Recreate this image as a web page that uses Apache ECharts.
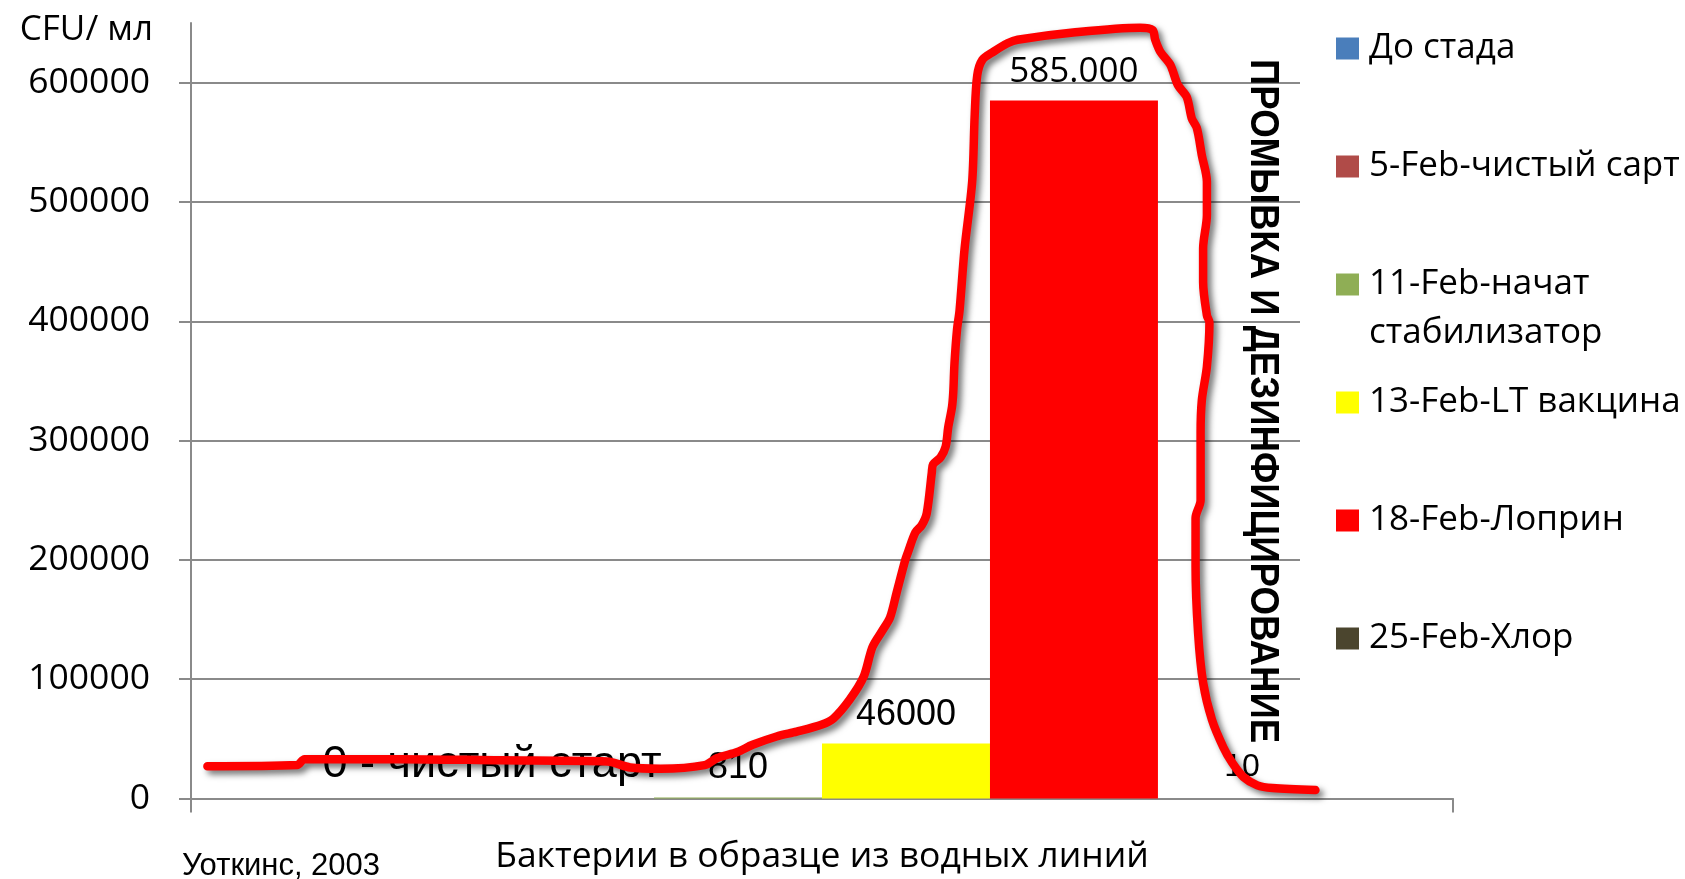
<!DOCTYPE html>
<html>
<head>
<meta charset="utf-8">
<title>CFU/ мл</title>
<script src="https://cdn.jsdelivr.net/npm/echarts@6/dist/echarts.min.js"></script>
<style>
  html, body { margin: 0; padding: 0; background: #fff; }
  #chart { width: 1685px; height: 879px; }
</style>
</head>
<body>
<div id="chart"></div>
<script>
// Category and the bar series (one bar per treatment date)
const categories = ['Бактерии в образце из водных линий'];
const seriesNames = ['До стада', '5-Feb-чистый сарт', '11-Feb-начат стабилизатор', '13-Feb-LT вакцина', '18-Feb-Лоприн', '25-Feb-Хлор'];
const seriesValues = [null, 0, 810, 46000, 585000, 10];

// Y axis tick labels (CFU per ml)
const yTicks = [0, 100000, 200000, 300000, 400000, 500000, 600000];
const yAxisTop = 650000;

// Hand-drawn trend outline: position along the category band (0..100 %) and CFU level
const trendX = [1.3, 8.4, 9.0, 16.6, 24.5, 33.0, 34.8, 37.2, 40.7, 41.7, 43.3, 44.5, 46.4, 48.0, 50.0, 50.9, 52.2, 53.3, 54.0, 54.8, 55.4, 55.9, 56.6, 56.8, 57.4, 57.9, 58.3, 58.7, 58.8, 59.4, 59.8, 60.0, 60.3, 60.4, 60.5, 60.7, 60.9, 61.3, 61.9, 62.1, 62.3, 62.7, 63.6, 64.7, 65.5, 69.9, 75.2, 76.2, 76.4, 76.8, 77.6, 78.2, 78.9, 79.3, 79.7, 80.1, 80.5, 80.5, 80.2, 80.2, 80.5, 80.7, 80.5, 80.1, 80.0, 80.0, 79.6, 79.6, 79.8, 80.2, 80.9, 81.8, 82.5, 83.4, 84.5, 85.7, 89.1];
const trendY = [27000, 28000, 33000, 33000, 32000, 31000, 26000, 25000, 28000, 34000, 39000, 45000, 52000, 56000, 62000, 67000, 83000, 102000, 127000, 141000, 152000, 172000, 200000, 206000, 223000, 229000, 239000, 273000, 280000, 286000, 295000, 311000, 328000, 340000, 365000, 393000, 409000, 461000, 517000, 573000, 606000, 619000, 626000, 633000, 636000, 642000, 646000, 644000, 636000, 626000, 615000, 598000, 588000, 570000, 562000, 539000, 517000, 489000, 461000, 433000, 405000, 399000, 362000, 334000, 306000, 250000, 235000, 194000, 139000, 97000, 66000, 43000, 30000, 18000, 11000, 8800, 7100];

// ---- styling ----
const seriesColors = ['#4A7EBB', '#B04B48', '#8FAE55', '#FFFF00', '#FF0000', '#4B452E'];
const axisGray = '#8A8A8A';
const UI_FONT = '"Open Sans", "Noto Sans", sans-serif';
const LABEL_FONT = '"Liberation Sans", Arial, sans-serif';

function dotThousands(v) {
  return String(v).replace(/\B(?=(\d{3})+(?!\d))/g, '.');
}

// per-series data label look
const labelLook = [
  { show: false },
  { show: true, fontFamily: LABEL_FONT, fontSize: 45, distance: 11, offset: [-78, 0], formatter: p => p.value + ' - чистый старт' },
  { show: true, fontFamily: LABEL_FONT, fontSize: 36, distance: 11 },
  { show: true, fontFamily: LABEL_FONT, fontSize: 36, distance: 11 },
  { show: true, fontFamily: UI_FONT, fontSize: 35, distance: 11, formatter: p => dotThousands(p.value) },
  { show: true, fontFamily: LABEL_FONT, fontSize: 32, distance: 15 }
];

const chart = echarts.init(document.getElementById('chart'), null, { renderer: 'canvas' });

const barSeries = seriesNames.map((name, i) => ({
  type: 'bar',
  name: name,
  xAxisIndex: 0,
  yAxisIndex: 0,
  data: [seriesValues[i]],
  barWidth: '13.31%',
  barGap: '0%',
  itemStyle: { color: seriesColors[i] },
  label: Object.assign({
    position: 'top',
    color: '#000',
    formatter: p => String(p.value)
  }, labelLook[i]),
  z: 2
}));

const trendSeries = {
  type: 'line',
  name: 'trend',
  xAxisIndex: 1,
  yAxisIndex: 0,
  data: trendX.map((x, i) => [x, trendY[i]]),
  showSymbol: false,
  symbol: 'none',
  smooth: 0.3,
  clip: false,
  silent: true,
  lineStyle: {
    color: '#FF0000',
    width: 8.5,
    cap: 'round',
    join: 'round',
    shadowColor: 'rgba(0,0,0,0.55)',
    shadowBlur: 6,
    shadowOffsetX: 4,
    shadowOffsetY: 4
  },
  z: 10
};

const legends = seriesNames.map((name, i) => {
  const twoLine = name.indexOf('стабилизатор') >= 0;
  return {
    data: [name],
    orient: 'vertical',
    left: 1336,
    top: 31 + i * 118,
    padding: 0,
    itemWidth: 23,
    itemHeight: 22,
    icon: 'rect',
    formatter: twoLine ? (n => '{t|' + n.replace(' ', '\n') + '}') : '{name}',
    textStyle: {
      fontFamily: UI_FONT,
      fontSize: 35,
      color: '#000',
      padding: twoLine ? [49, 0, 0, 5] : [0, 0, 0, 5],
      rich: { t: { fontFamily: UI_FONT, fontSize: 35, lineHeight: 49, color: '#000' } }
    }
  };
});

const option = {
  animation: false,
  backgroundColor: '#fff',
  grid: [
    { left: 191, right: 232, top: 23, bottom: 80.5, outerBoundsMode: 'none' },
    // helper grid carrying the horizontal grid lines (they stop short of the legend column)
    { left: 179, right: 385, top: 82.65, bottom: 80.5, outerBoundsMode: 'none' }
  ],
  xAxis: [
    {
      type: 'category',
      gridIndex: 0,
      data: categories,
      axisLine: { show: true, lineStyle: { color: axisGray, width: 2 } },
      axisTick: { show: true, length: 14, lineStyle: { color: axisGray, width: 2 } },
      axisLabel: { fontFamily: UI_FONT, fontSize: 35.5, color: '#000', margin: 40 },
      splitLine: { show: false }
    },
    { type: 'value', gridIndex: 0, min: 0, max: 100, show: false },
    { type: 'value', gridIndex: 1, min: 0, max: 100, show: false }
  ],
  yAxis: [
    {
      type: 'value',
      gridIndex: 0,
      min: yTicks[0],
      max: yAxisTop,
      interval: yTicks[1] - yTicks[0],
      name: 'CFU/ мл',
      nameLocation: 'end',
      nameGap: -7,
      nameTextStyle: { fontFamily: UI_FONT, fontSize: 35, color: '#000', align: 'right', verticalAlign: 'middle', padding: [0, 38, 0, 0] },
      axisLine: { show: true, lineStyle: { color: axisGray, width: 2 } },
      axisTick: { show: false },
      axisLabel: { fontFamily: UI_FONT, fontSize: 35.5, color: '#000', margin: 41, showMaxLabel: false, formatter: v => String(v) },
      splitLine: { show: false }
    },
    {
      type: 'value',
      gridIndex: 1,
      min: yTicks[0],
      max: yTicks[yTicks.length - 1],
      interval: yTicks[1] - yTicks[0],
      axisLine: { show: false },
      axisTick: { show: false },
      axisLabel: { show: false },
      splitLine: { show: true, lineStyle: { color: axisGray, width: 2 } }
    }
  ],
  legend: legends,
  series: barSeries.concat([trendSeries]),
  graphic: [
    {
      type: 'text',
      x: 1262,
      y: 401,
      rotation: -Math.PI / 2,
      scaleX: 0.915,
      z: 20,
      style: {
        text: 'ПРОМЫВКА И ДЕЗИНФИЦИРОВАНИЕ',
        font: 'bold 40px "Liberation Sans", Arial, sans-serif',
        fill: '#000',
        align: 'center',
        verticalAlign: 'middle'
      }
    },
    {
      type: 'text',
      x: 182,
      y: 866,
      style: {
        text: 'Уоткинс, 2003',
        font: '31px "Liberation Sans", Arial, sans-serif',
        fill: '#000',
        align: 'left',
        verticalAlign: 'middle'
      }
    }
  ]
};

chart.setOption(option);
</script>
</body>
</html>
